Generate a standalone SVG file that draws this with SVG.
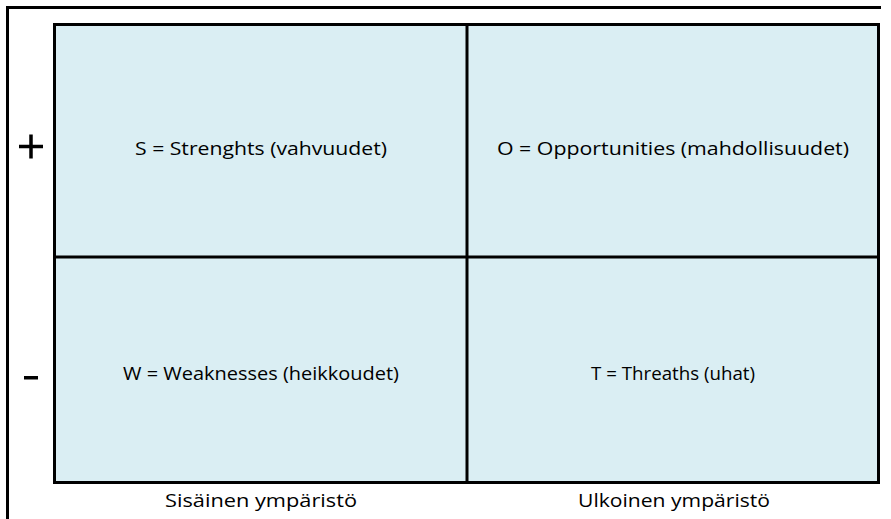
<svg xmlns="http://www.w3.org/2000/svg" width="891" height="519" viewBox="0 0 891 519">
<style>
.cell{fill:#DAEEF3;stroke:none}
.ln{stroke:#000;stroke-width:3;fill:none}
.lbl{font-family:"Open Sans","Noto Sans",sans-serif;font-size:18px;fill:#000;text-anchor:middle}
</style>
<rect width="891" height="519" fill="#fff"/>
<g id="frame">
<path class="ln" d="M7.5,519 V7.5 H881"/>
</g>
<g id="S"><rect class="cell" x="54" y="24" width="413" height="233"/><text class="lbl" x="261" y="155" textLength="252" lengthAdjust="spacingAndGlyphs">S = Strenghts (vahvuudet)</text></g>
<g id="O"><rect class="cell" x="467" y="24" width="412" height="233"/><text class="lbl" x="673" y="155" textLength="352" lengthAdjust="spacingAndGlyphs">O = Opportunities (mahdollisuudet)</text></g>
<g id="W"><rect class="cell" x="54" y="257" width="413" height="226"/><text class="lbl" x="261" y="380" textLength="276" lengthAdjust="spacingAndGlyphs">W = Weaknesses (heikkoudet)</text></g>
<g id="T"><rect class="cell" x="467" y="257" width="412" height="226"/><text class="lbl" x="673" y="380" textLength="164" lengthAdjust="spacingAndGlyphs">T = Threaths (uhat)</text></g>
<g id="connectors">
<rect class="ln" x="54.5" y="24.5" width="824" height="458"/>
<line class="ln" x1="467" y1="24" x2="467" y2="483"/>
<line class="ln" x1="54" y1="257" x2="879" y2="257"/>
</g>
<g id="plus"><path d="M19,146.5 H43 M31,134.5 V158.5" stroke="#000" stroke-width="3.5" fill="none"/></g>
<g id="minus"><rect x="24" y="376" width="14" height="3.5" fill="#000"/></g>
<g id="axis">
<text class="lbl" x="261" y="507" textLength="192" lengthAdjust="spacingAndGlyphs">Sisäinen ympäristö</text>
<text class="lbl" x="674" y="507" textLength="192" lengthAdjust="spacingAndGlyphs">Ulkoinen ympäristö</text>
</g>
</svg>
